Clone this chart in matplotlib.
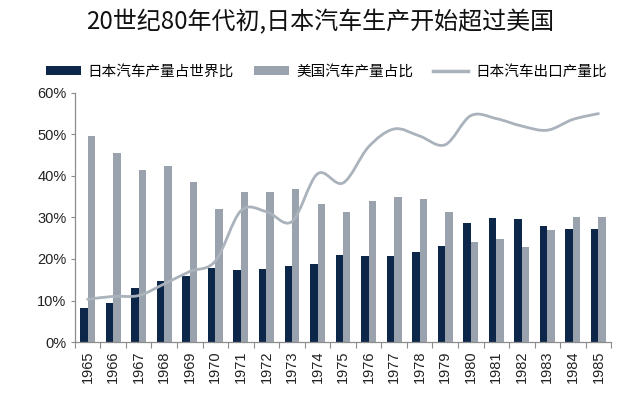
import numpy as np
import matplotlib
matplotlib.use('Agg')
import matplotlib.pyplot as plt
from matplotlib.path import Path
from matplotlib.patches import PathPatch, Patch
from matplotlib.lines import Line2D

plt.rcParams['font.family'] = ['Noto Sans CJK SC', 'DejaVu Sans']

# data (percent)
years = ['1965', '1966', '1967', '1968', '1969', '1970', '1971', '1972', '1973', '1974',
         '1975', '1976', '1977', '1978', '1979', '1980', '1981', '1982', '1983', '1984', '1985']
japan_world_share = [8.1, 9.3, 13.1, 14.6, 15.8, 17.9, 17.4, 17.7, 18.2, 18.9,
                     21.0, 20.6, 20.8, 21.8, 23.2, 28.7, 29.9, 29.7, 28.0, 27.3, 27.3]
us_share = [49.5, 45.6, 41.5, 42.3, 38.6, 32.1, 36.1, 36.1, 36.8, 33.3,
            31.4, 34.0, 35.0, 34.5, 31.4, 24.2, 24.9, 23.0, 27.0, 30.2, 30.2]
japan_export_ratio = [10.3, 11.0, 11.2, 14.0, 17.0, 19.5, 31.6, 31.4, 29.0, 40.5,
                      38.3, 47.0, 51.3, 49.6, 47.5, 54.5, 53.8, 52.0, 51.0, 53.6, 55.0]

title = '20世纪80年代初,日本汽车生产开始超过美国'
label_jp = '日本汽车产量占世界比'
label_us = '美国汽车产量占比'
label_exp = '日本汽车出口产量比'

c_jp = '#0c2749'
c_us = '#9aa3ad'
c_line = '#aab2bc'
c_axis = '#8c8c8c'


def smooth_path(xs, ys):
    """catmull-rom style bezier through the points, drawn by matplotlib as CURVE4"""
    pts = np.column_stack([xs, ys])
    verts = [pts[0]]
    codes = [Path.MOVETO]
    n = len(pts)
    for i in range(n - 1):
        p0 = pts[i - 1] if i > 0 else pts[i]
        p1 = pts[i]
        p2 = pts[i + 1]
        p3 = pts[i + 2] if i + 2 < n else pts[i + 1]
        c1 = p1 + (p2 - p0) / 6.0
        c2 = p2 - (p3 - p1) / 6.0
        verts += [c1, c2, p2]
        codes += [Path.CURVE4] * 3
    return Path(verts, codes)


fig = plt.figure(figsize=(6.4, 3.95), dpi=100)
ax = fig.add_axes([0.117, 0.134, 0.838, 0.631])

x = np.arange(len(years))
w = 0.29
ax.bar(x - w / 2, np.array(japan_world_share) / 100, width=w, color=c_jp, zorder=2)
ax.bar(x + w / 2, np.array(us_share) / 100, width=w, color=c_us, zorder=2)

line_path = smooth_path(x, np.array(japan_export_ratio) / 100)
ax.add_patch(PathPatch(line_path, facecolor='none', edgecolor=c_line, lw=2.0, zorder=3,
                       capstyle='round', joinstyle='round'))

ax.set_xlim(-0.5, len(years) - 0.5)
ax.set_ylim(0, 0.6)
ax.set_yticks(np.arange(0, 0.61, 0.1))
ax.set_yticklabels(['%d%%' % (v * 100) for v in np.arange(0, 0.61, 0.1)],
                   fontfamily='Liberation Sans', fontsize=10.5, color='#222222')
ax.set_xticks(x)
ax.set_xticklabels(years, rotation=90, fontfamily='Liberation Sans', fontsize=10.5,
                   color='#222222')
ax.set_xticks(np.arange(-0.5, len(years), 1.0), minor=True)
ax.tick_params(axis='x', which='major', length=0, pad=6)
ax.tick_params(axis='x', which='minor', length=4, color=c_axis, width=0.8)
ax.tick_params(axis='y', length=3, color=c_axis, width=0.8, pad=3)

for s in ['top', 'right']:
    ax.spines[s].set_visible(False)
for s in ['left', 'bottom']:
    ax.spines[s].set_color(c_axis)
    ax.spines[s].set_linewidth(0.9)

handles = [Patch(facecolor=c_jp, edgecolor='none'),
           Patch(facecolor=c_us, edgecolor='none'),
           Line2D([0], [0], color=c_line, lw=2.5)]
fig.legend(handles, [label_jp, label_us, label_exp], loc='center',
           bbox_to_anchor=(0.51, 0.818), ncol=3, frameon=False, fontsize=10.5,
           handlelength=2.4, handleheight=0.6, handletextpad=0.45, columnspacing=1.4)

fig.text(0.5, 0.944, title, ha='center', va='center', fontsize=17.3, color='#111111')

fig.savefig('out.png', dpi=100, facecolor='white')
